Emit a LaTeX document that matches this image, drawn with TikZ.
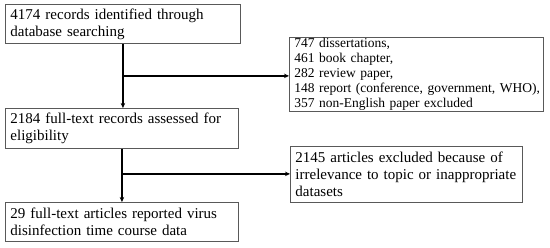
\documentclass[tikz,border=0pt]{standalone}
\usepackage{fontspec}
\setmainfont{Liberation Serif}
\usetikzlibrary{arrows.meta,calc}
\begin{document}
\begin{tikzpicture}[x=1pt,y=1pt,
  box/.style={draw=black!65, line width=0.9pt, anchor=north west, align=left,
    inner xsep=5pt, inner ysep=1pt, font=\fontsize{15}{16.8}\selectfont},
  tight/.style={font=\fontsize{13.5}{14.9}\selectfont},
  arr/.style={line width=1.5pt, -{Stealth[length=5pt,width=4.5pt]}}]
\useasboundingbox (0,0) rectangle (550,247);
\fill[white] (0,0) rectangle (550,247);
\node[box, text width=225pt, minimum width=235pt, minimum height=39pt] (b1) at (5,243)
  {4174 records identified through\\database searching};
\node[box, tight, text width=244pt, minimum width=254pt, minimum height=73pt] (b2) at (289,210)
  {747 dissertations,\\461 book chapter,\\282 review paper,\\\mbox{148 report (conference, government, WHO),}\\357 non-English paper excluded};
\node[box, text width=223pt, minimum width=233pt, minimum height=40pt] (b3) at (5,139)
  {2184 full-text records assessed for\\eligibility};
\node[box, text width=222pt, minimum width=232pt, minimum height=56pt] (b4) at (290,101)
  {2145 articles excluded because of\\irrelevance to topic or inappropriate\\datasets};
\node[box, text width=223pt, minimum width=233pt, minimum height=39pt] (b5) at (5,45)
  {29 full-text articles reported virus\\disinfection time course data};
\coordinate (j1) at ($(b1.south)+(0,-32)$);
\coordinate (j2) at ($(b3.south)+(0,-25)$);
\draw[arr] (b1.south) -- (b1.south |- b3.north);
\draw[arr] (j1) -- (j1 -| b2.west);
\draw[arr] (b3.south) -- (b3.south |- b5.north);
\draw[arr] (j2) -- (j2 -| b4.west);
\end{tikzpicture}
\end{document}
